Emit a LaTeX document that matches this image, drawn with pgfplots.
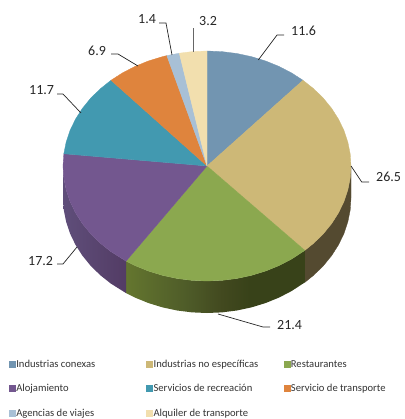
\documentclass[border=0pt]{standalone}
\usepackage{fontspec}
\setmainfont{Carlito}
\usepackage{pgfplots}
\pgfplotsset{compat=1.18}
\definecolor{cA}{HTML}{7295B1}
\definecolor{cB}{HTML}{CDB877}
\definecolor{cC}{HTML}{8BA84F}
\definecolor{cD}{HTML}{73578F}
\definecolor{cE}{HTML}{4299B0}
\definecolor{cF}{HTML}{DF843D}
\definecolor{cG}{HTML}{A8C0D6}
\definecolor{cH}{HTML}{F2DFAE}
\definecolor{sB}{HTML}{544A30}
\definecolor{g1}{HTML}{384219}
\definecolor{g2}{HTML}{42491F}
\definecolor{g3}{HTML}{4D5A28}
\definecolor{g4}{HTML}{64762F}
\definecolor{p1}{HTML}{533C65}
\definecolor{p4}{HTML}{5F4E7A}
\pgfdeclarehorizontalshading{greenwall}{100bp}{color(0bp)=(g4); color(25bp)=(g4); color(42.9bp)=(g3); color(51.8bp)=(g2); color(59.6bp)=(g1); color(75bp)=(g1); color(100bp)=(g1)}
\pgfdeclarehorizontalshading{purplewall}{100bp}{color(0bp)=(p4); color(25bp)=(p4); color(75bp)=(p1); color(100bp)=(p1)}
\newcommand{\lab}[3]{\node[anchor=west,inner sep=0pt,font=\fontsize{14}{16}\selectfont,text=black!85] at (axis cs:#1,#2) {#3};}
\pgfplotsset{
  wedge/.style={fill=#1,draw=#1,line width=0.3pt,area legend,
    legend image code/.code={\fill[#1] (0pt,-3pt) rectangle (6pt,3pt);}},
  side/.style={fill=#1,draw=#1,line width=0.3pt,forget plot},
  leader/.style={draw=black!85,line width=0.7pt,forget plot,sharp plot}
}
\begin{document}
\begin{tikzpicture}
\path (0,0) rectangle (404pt,419pt);
\begin{axis}[
  at={(0,0)},anchor=south west,
  scale only axis,width=404pt,height=419pt,
  xmin=0,xmax=404,ymin=0,ymax=419,y dir=reverse,
  hide axis,clip=false,
  legend columns=3,
  legend cell align=left,
  legend style={at={(axis cs:9,358.5)},anchor=north west,draw=none,fill=none,
    font=\fontsize{10.6}{12}\selectfont,text=black!80,row sep=13.5pt,inner sep=0pt,outer sep=0pt,
    nodes={inner sep=1pt,text depth=0.3ex,text height=1.6ex}},
]
% side walls, under the top faces
\addplot[side=sB] coordinates {(351,166)(350.21,178.02)(347.85,189.91)(343.96,201.54)(338.54,212.77)(331.71,223.5)(323.5,233.6)(314.01,242.95)(304.83,250.38)(304.83,282.38)(314.01,274.95)(323.5,265.6)(331.71,255.5)(338.54,244.77)(343.96,233.54)(347.85,221.91)(350.21,210.02)(351,198)} -- cycle;
\addplot[forget plot,draw=none,shading=greenwall] coordinates {(304.83,250.38)(291.64,259.03)(279,265.59)(265.57,271.05)(251.5,275.37)(236.94,278.48)(222.05,280.37)(207,281)(191.95,280.37)(177.06,278.48)(162.5,275.37)(148.43,271.05)(135,265.59)(126.06,261.12)(126.06,293.12)(135,297.59)(148.43,303.05)(162.5,307.37)(177.06,310.48)(191.95,312.37)(207,313)(222.05,312.37)(236.94,310.48)(251.5,307.37)(265.57,303.05)(279,297.59)(291.64,291.03)(304.83,282.38)} -- cycle;
\addplot[forget plot,draw=none,shading=purplewall] coordinates {(126.06,261.12)(110.65,251.46)(99.99,242.95)(90.5,233.6)(82.29,223.5)(75.46,212.77)(70.04,201.54)(66.15,189.91)(63.79,178.02)(63,166)(63,198)(63.79,210.02)(66.15,221.91)(70.04,233.54)(75.46,244.77)(82.29,255.5)(90.5,265.6)(99.99,274.95)(110.65,283.46)(126.06,293.12)} -- cycle;
% top faces
\addplot[wedge=cA] coordinates {(207,166)(207,51)(222.05,51.63)(236.94,53.52)(251.5,56.63)(265.57,60.95)(279,66.41)(291.64,72.97)(302.98,80.27)} -- cycle;
\addplot[wedge=cB] coordinates {(207,166)(302.98,80.27)(314.01,89.05)(323.5,98.4)(331.71,108.5)(338.54,119.23)(343.96,130.46)(347.85,142.09)(350.21,153.98)(351,166)(350.21,178.02)(347.85,189.91)(343.96,201.54)(338.54,212.77)(331.71,223.5)(323.5,233.6)(314.01,242.95)(304.83,250.38)} -- cycle;
\addplot[wedge=cC] coordinates {(207,166)(304.83,250.38)(291.64,259.03)(279,265.59)(265.57,271.05)(251.5,275.37)(236.94,278.48)(222.05,280.37)(207,281)(191.95,280.37)(177.06,278.48)(162.5,275.37)(148.43,271.05)(135,265.59)(126.06,261.12)} -- cycle;
\addplot[wedge=cD] coordinates {(207,166)(126.06,261.12)(110.65,251.46)(99.99,242.95)(90.5,233.6)(82.29,223.5)(75.46,212.77)(70.04,201.54)(66.15,189.91)(63.79,178.02)(63,166)(63.82,153.78)} -- cycle;
\addplot[wedge=cE] coordinates {(207,166)(63.82,153.78)(66.15,142.09)(70.04,130.46)(75.46,119.23)(82.29,108.5)(90.5,98.4)(99.99,89.05)(111.02,80.27)} -- cycle;
\addplot[wedge=cF] coordinates {(207,166)(111.02,80.27)(122.36,72.97)(135,66.41)(148.43,60.95)(162.5,56.63)(166.8,55.6)} -- cycle;
\addplot[wedge=cG] coordinates {(207,166)(166.8,55.6)(179.3,53.2)} -- cycle;
\addplot[wedge=cH] coordinates {(207,166)(179.3,53.2)(191.95,51.63)(207,51)} -- cycle;
% leader lines
\addplot[leader] coordinates {(258.3,60)(277,35)(284,35)};
\addplot[leader] coordinates {(351,166)(361.7,182)(369,182)};
\addplot[leader] coordinates {(218,314)(263,327)(270,327)};
\addplot[leader] coordinates {(77,247)(63,264)(57,264)};
\addplot[leader] coordinates {(81,113)(63,94)(57,94)};
\addplot[leader] coordinates {(138,66)(118,54)(111,54)};
\addplot[leader] coordinates {(172,55)(166,23)(159,23)};
\addplot[leader,draw=black!60] coordinates {(193,52)(193,28)};
% data labels
\lab{291}{31}{11.6}
\lab{376}{177}{26.5}
\lab{277}{325}{21.4}
\lab{28}{261}{17.2}
\lab{29}{90}{11.7}
\lab{88}{51}{6.9}
\lab{138}{19}{1.4}
\lab{199}{21}{3.2}
\legend{\makebox[129pt][l]{Industrias conexas},\makebox[129pt][l]{Industrias no específicas},Restaurantes,
\makebox[129pt][l]{Alojamiento},\makebox[129pt][l]{Servicios de recreación},Servicio de transporte,
\makebox[129pt][l]{Agencias de viajes},\makebox[129pt][l]{Alquiler de transporte}}
\end{axis}
\end{tikzpicture}
\end{document}
